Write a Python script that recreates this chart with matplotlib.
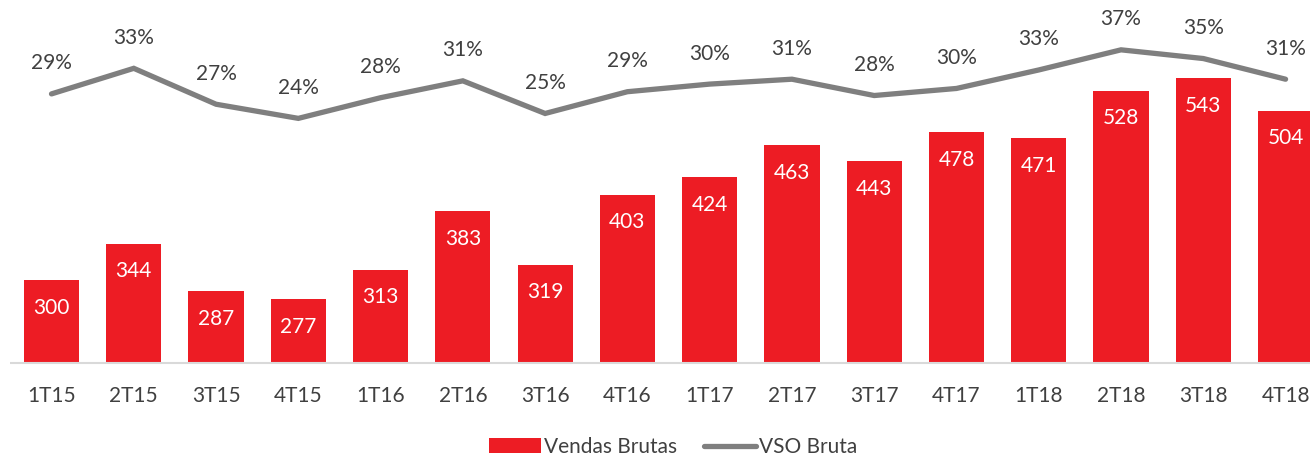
import matplotlib
matplotlib.use("Agg")
import matplotlib.pyplot as plt
import numpy as np

# ── Data ──────────────────────────────────────────────────────────────────────
QUARTERS = ["1T15", "2T15", "3T15", "4T15", "1T16", "2T16", "3T16", "4T16",
            "1T17", "2T17", "3T17", "4T17", "1T18", "2T18", "3T18", "4T18"]
VENDAS = [300, 344, 287, 277, 313, 383, 319, 403,
          424, 463, 443, 478, 471, 528, 543, 504]
VSO = [28.6, 33.3, 26.7, 24.1, 27.9, 31.0, 25.0, 29.0,
       30.4, 31.3, 28.3, 29.6, 33.0, 36.7, 35.1, 31.3]   # %

RED = "#ED1C24"
GRAY = "#7f7f7f"
TEXT = "#404040"

plt.rcParams.update({
    "font.family": ["Lato", "DejaVu Sans"],
    "figure.facecolor": "white",
    "axes.facecolor": "none",
})

W, H = 1310, 457
fig = plt.figure(figsize=(W / 100, H / 100), dpi=100)
base_px = 363.5
ax = fig.add_axes([0, 1 - base_px / H, 1, base_px / H])
x = np.arange(len(QUARTERS))

bars = ax.bar(x, VENDAS, 0.67, bottom=0, color=RED, zorder=2, label="Vendas Brutas")
ax.set_ylim(200, 637)
ax.set_xlim(-0.626, 15.297)
ax.hlines(200, -0.5, 16, color="#d9d9d9", lw=1.5, zorder=3, clip_on=False)

for b, v in zip(bars, VENDAS):
    ax.annotate(str(v), (b.get_x() + b.get_width() / 2, v), xytext=(0, -20),
                textcoords="offset points", ha="center", va="center",
                fontsize=15, color="white", zorder=4)

for s in ax.spines.values():
    s.set_visible(False)
ax.set_yticks([])
ax.set_xticks(x)
ax.set_xticklabels(QUARTERS, fontsize=15, color=TEXT)
ax.tick_params(axis="x", length=0, pad=16)

ax2 = ax.twinx()
ax2.set_ylim(-20.96, 45.86)
ax2.set_yticks([])
for s in ax2.spines.values():
    s.set_visible(False)
line, = ax2.plot(x, VSO, color=GRAY, lw=3.8, solid_capstyle="round",
                 solid_joinstyle="miter", zorder=3, label="VSO Bruta")
for xi, v in zip(x, VSO):
    ax2.annotate(f"{round(v)}%", (xi, v), xytext=(0, 22), textcoords="offset points",
                 ha="center", va="center", fontsize=15, color=TEXT)

fig.legend(handles=[bars, line], loc="center", bbox_to_anchor=(673 / W, 1 - 447 / H),
           ncol=2, frameon=False, fontsize=15, handlelength=2.5, handletextpad=0.15,
           columnspacing=1.3, labelcolor=TEXT)

fig.savefig("out.png", dpi=100)
